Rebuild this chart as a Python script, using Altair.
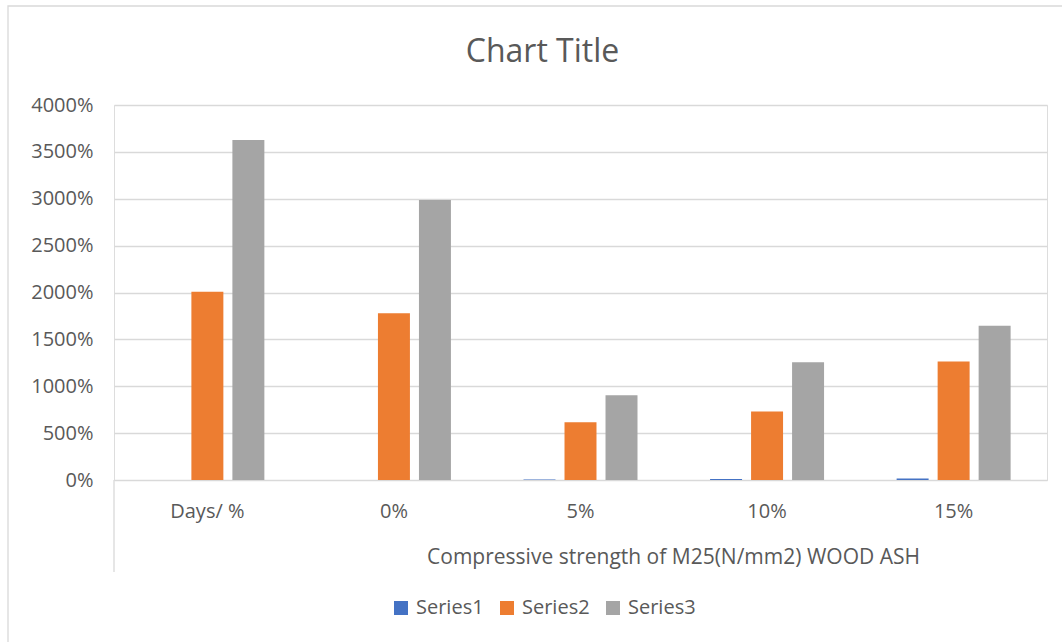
import altair as alt
import pandas as pd

categories = ["Days/ %", "0%", "5%", "10%", "15%"]
series_names = ["Series1", "Series2", "Series3"]
series1 = [0.0, 0.0, 0.05, 0.10, 0.15]
series2 = [20.08, 17.78, 6.15, 7.32, 12.65]
series3 = [36.27, 29.87, 9.03, 12.55, 16.46]
y_ticks = [0, 5, 10, 15, 20, 25, 30, 35, 40]

colors = ["#4472C4", "#ED7D31", "#A5A5A5"]
TEXT = "#595959"
GRID = "#D9D9D9"
FONT = "Open Sans"

rows = []
for name, vals in zip(series_names, [series1, series2, series3]):
    for cat, v in zip(categories, vals):
        rows.append({"category": cat, "series": name, "value": v})
df = pd.DataFrame(rows)

W, H = 933, 375
PAD_L, PAD_T = 114, 105

bars = alt.Chart(df).mark_bar().encode(
    x=alt.X(
        "category:N",
        sort=categories,
        scale=alt.Scale(paddingInner=0.389, paddingOuter=0.195),
        axis=alt.Axis(
            title="Compressive strength of M25(N/mm2) WOOD ASH",
            labelAngle=0,
            labelFont=FONT,
            labelFontSize=20,
            labelColor=TEXT,
            labelPadding=31,
            labelBaseline="middle",
            ticks=False,
            tickSize=0,
            domainColor=GRID,
            domainWidth=1,
            titleFont=FONT,
            titleFontSize=21,
            titleFontWeight="normal",
            titleColor=TEXT,
            titleX=559,
            titleY=77,
            titleBaseline="middle",
            titleAnchor="start",
            titleAlign="center",
        ),
    ),
    xOffset=alt.XOffset(
        "series:N",
        sort=series_names,
        scale=alt.Scale(paddingInner=0.22, paddingOuter=0),
    ),
    y=alt.Y(
        "value:Q",
        scale=alt.Scale(domain=[0, 40], nice=False),
        axis=alt.Axis(
            title=None,
            values=y_ticks,
            format=".0%",
            labelFont=FONT,
            labelFontSize=20,
            labelColor=TEXT,
            labelPadding=21,
            ticks=False,
            tickSize=0,
            domain=False,
            gridColor=GRID,
            gridWidth=1.3,
        ),
    ),
    color=alt.Color(
        "series:N",
        sort=series_names,
        scale=alt.Scale(domain=series_names, range=colors),
        legend=alt.Legend(
            title=None,
            orient="none",
            direction="horizontal",
            legendX=277,
            legendY=493,
            symbolType="square",
            symbolSize=196,
            symbolStrokeWidth=0,
            labelFont=FONT,
            labelFontSize=20,
            labelColor=TEXT,
            labelOffset=5,
            columnPadding=13,
        ),
    ),
)

# left edge of the two-level category axis
divider = alt.Chart(alt.Data(values=[{}])).mark_rule(color=GRID, strokeWidth=1.3).encode(
    x=alt.value(0), y=alt.value(H), y2=alt.value(H + 92)
)

# chart area outline
frame = alt.Chart(alt.Data(values=[{}])).mark_rect(
    fill=None, stroke=GRID, strokeWidth=1.3
).encode(
    x=alt.value(8 - PAD_L), y=alt.value(6 - PAD_T),
    x2=alt.value(W + 100), y2=alt.value(H + 300),
)

chart = alt.layer(frame, bars, divider).properties(
    width=W,
    height=H,
    padding={"left": PAD_L, "top": PAD_T, "right": 1062 - PAD_L - W, "bottom": 642 - PAD_T - H},
    autosize=alt.AutoSizeParams(type="none"),
    title=alt.TitleParams(
        "Chart Title",
        font=FONT,
        fontSize=32,
        fontWeight="normal",
        color=TEXT,
        anchor="middle",
        baseline="alphabetic",
        dx=-38,
        offset=-89,
    ),
).configure_view(stroke=None).configure(background="white")

chart.save("out.html", embed_options={"renderer": "svg", "actions": False})
